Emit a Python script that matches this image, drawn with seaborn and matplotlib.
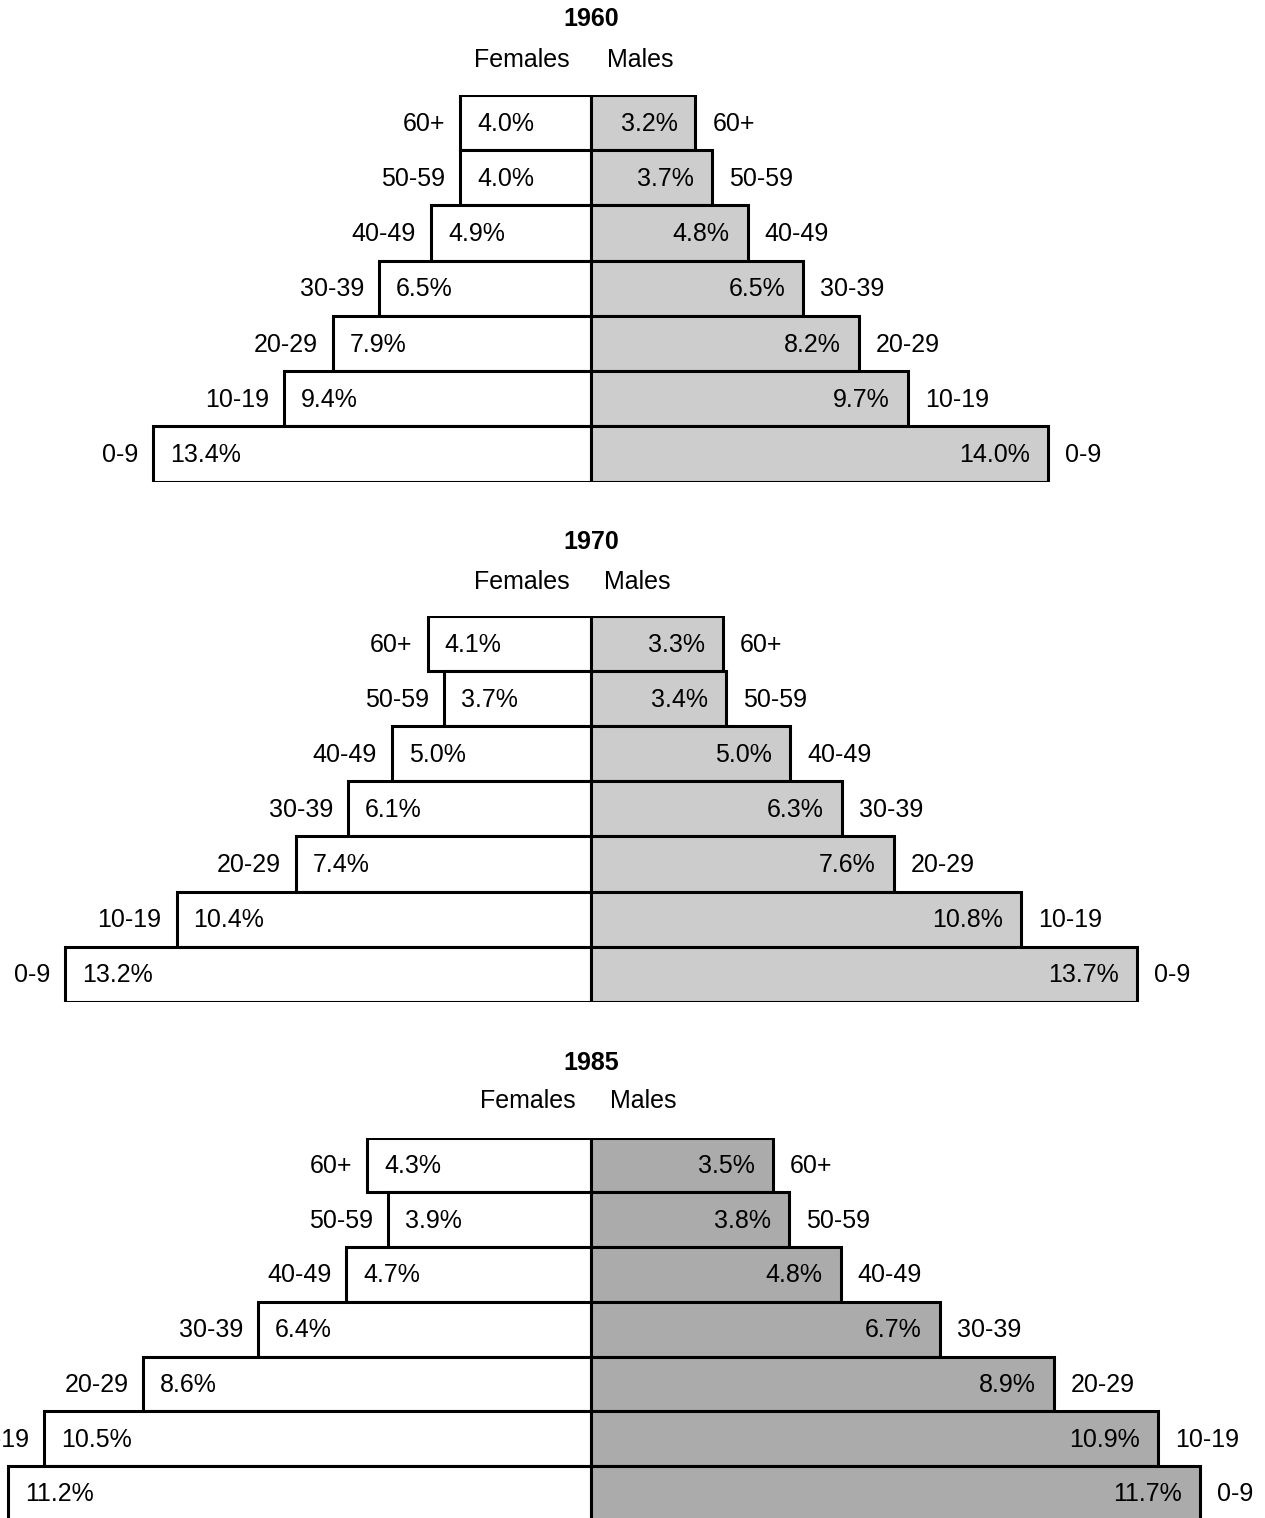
import matplotlib
matplotlib.use("Agg")
import matplotlib.pyplot as plt
import pandas as pd
import seaborn as sns

# data (percent of total population)
years = ["1960", "1970", "1985"]
age_groups = ["60+", "50-59", "40-49", "30-39", "20-29", "10-19", "0-9"]

females_1960 = [4.0, 4.0, 4.9, 6.5, 7.9, 9.4, 13.4]
males_1960 = [3.2, 3.7, 4.8, 6.5, 8.2, 9.7, 14.0]
females_1970 = [4.1, 3.7, 5.0, 6.1, 7.4, 10.4, 13.2]
males_1970 = [3.3, 3.4, 5.0, 6.3, 7.6, 10.8, 13.7]
females_1985 = [4.3, 3.9, 4.7, 6.4, 8.6, 10.5, 11.2]
males_1985 = [3.5, 3.8, 4.8, 6.7, 8.9, 10.9, 11.7]

female_series = [females_1960, females_1970, females_1985]
male_series = [males_1960, males_1970, males_1985]

# layout in pixels (figure is 1265 x 1518)
W, H = 1265, 1518
CX = 591
layout = [
    dict(top=95, bottom=481.7, scale=32.65, gray="#cdcdcd", title_y=19, sub_y=60, fem_r=570, male_l=607),
    dict(top=616, bottom=1001.7, scale=39.85, gray="#cccccc", title_y=542, sub_y=582, fem_r=570, male_l=604),
    dict(top=1137.7, bottom=1520.7, scale=52.05, gray="#ababab", title_y=1063, sub_y=1101, fem_r=576, male_l=610),
]

sns.set_style("white")
plt.rcParams["font.family"] = ["Liberation Sans", "DejaVu Sans"]
plt.rcParams["text.color"] = "black"
FS = 18

fig = plt.figure(figsize=(W / 100, H / 100), dpi=100)
fig.patch.set_facecolor("white")

for year, fem, mal, lay in zip(years, female_series, male_series, layout):
    df = pd.DataFrame({
        "age": age_groups * 2,
        "sex": ["Females"] * len(age_groups) + ["Males"] * len(age_groups),
        "value": [-v for v in fem] + list(mal),
    })

    ax = fig.add_axes([0, 1 - lay["bottom"] / H, 1, (lay["bottom"] - lay["top"]) / H])
    sns.barplot(data=df, x="value", y="age", hue="sex", order=age_groups,
                hue_order=["Females", "Males"], dodge=False, width=1.0,
                palette={"Females": "white", "Males": lay["gray"]},
                edgecolor="black", linewidth=2.2, errorbar=None, legend=False, ax=ax)
    ax.set_xlim(-CX / lay["scale"], (W - CX) / lay["scale"])
    ax.set_ylim(len(age_groups) - 0.5, -0.5)
    ax.axis("off")

    for i, (age, f, m) in enumerate(zip(age_groups, fem, mal)):
        kw = dict(xycoords="data", textcoords="offset pixels", va="center",
                  fontsize=FS, color="black")
        ax.annotate(f"{f:.1f}%", xy=(-f, i), xytext=(17, -1), ha="left", **kw)
        ax.annotate(age, xy=(-f, i), xytext=(-15, -1), ha="right", **kw)
        ax.annotate(f"{m:.1f}%", xy=(m, i), xytext=(-18, -1), ha="right", **kw)
        ax.annotate(age, xy=(m, i), xytext=(17, -1), ha="left", **kw)

    fig.text(CX / W, 1 - lay["title_y"] / H, year, ha="center", va="center",
             fontsize=FS, fontweight="bold", color="black")
    fig.text(lay["fem_r"] / W, 1 - lay["sub_y"] / H, "Females", ha="right", va="center",
             fontsize=FS, color="black")
    fig.text(lay["male_l"] / W, 1 - lay["sub_y"] / H, "Males", ha="left", va="center",
             fontsize=FS, color="black")

fig.savefig("out.png", dpi=100, facecolor="white")
